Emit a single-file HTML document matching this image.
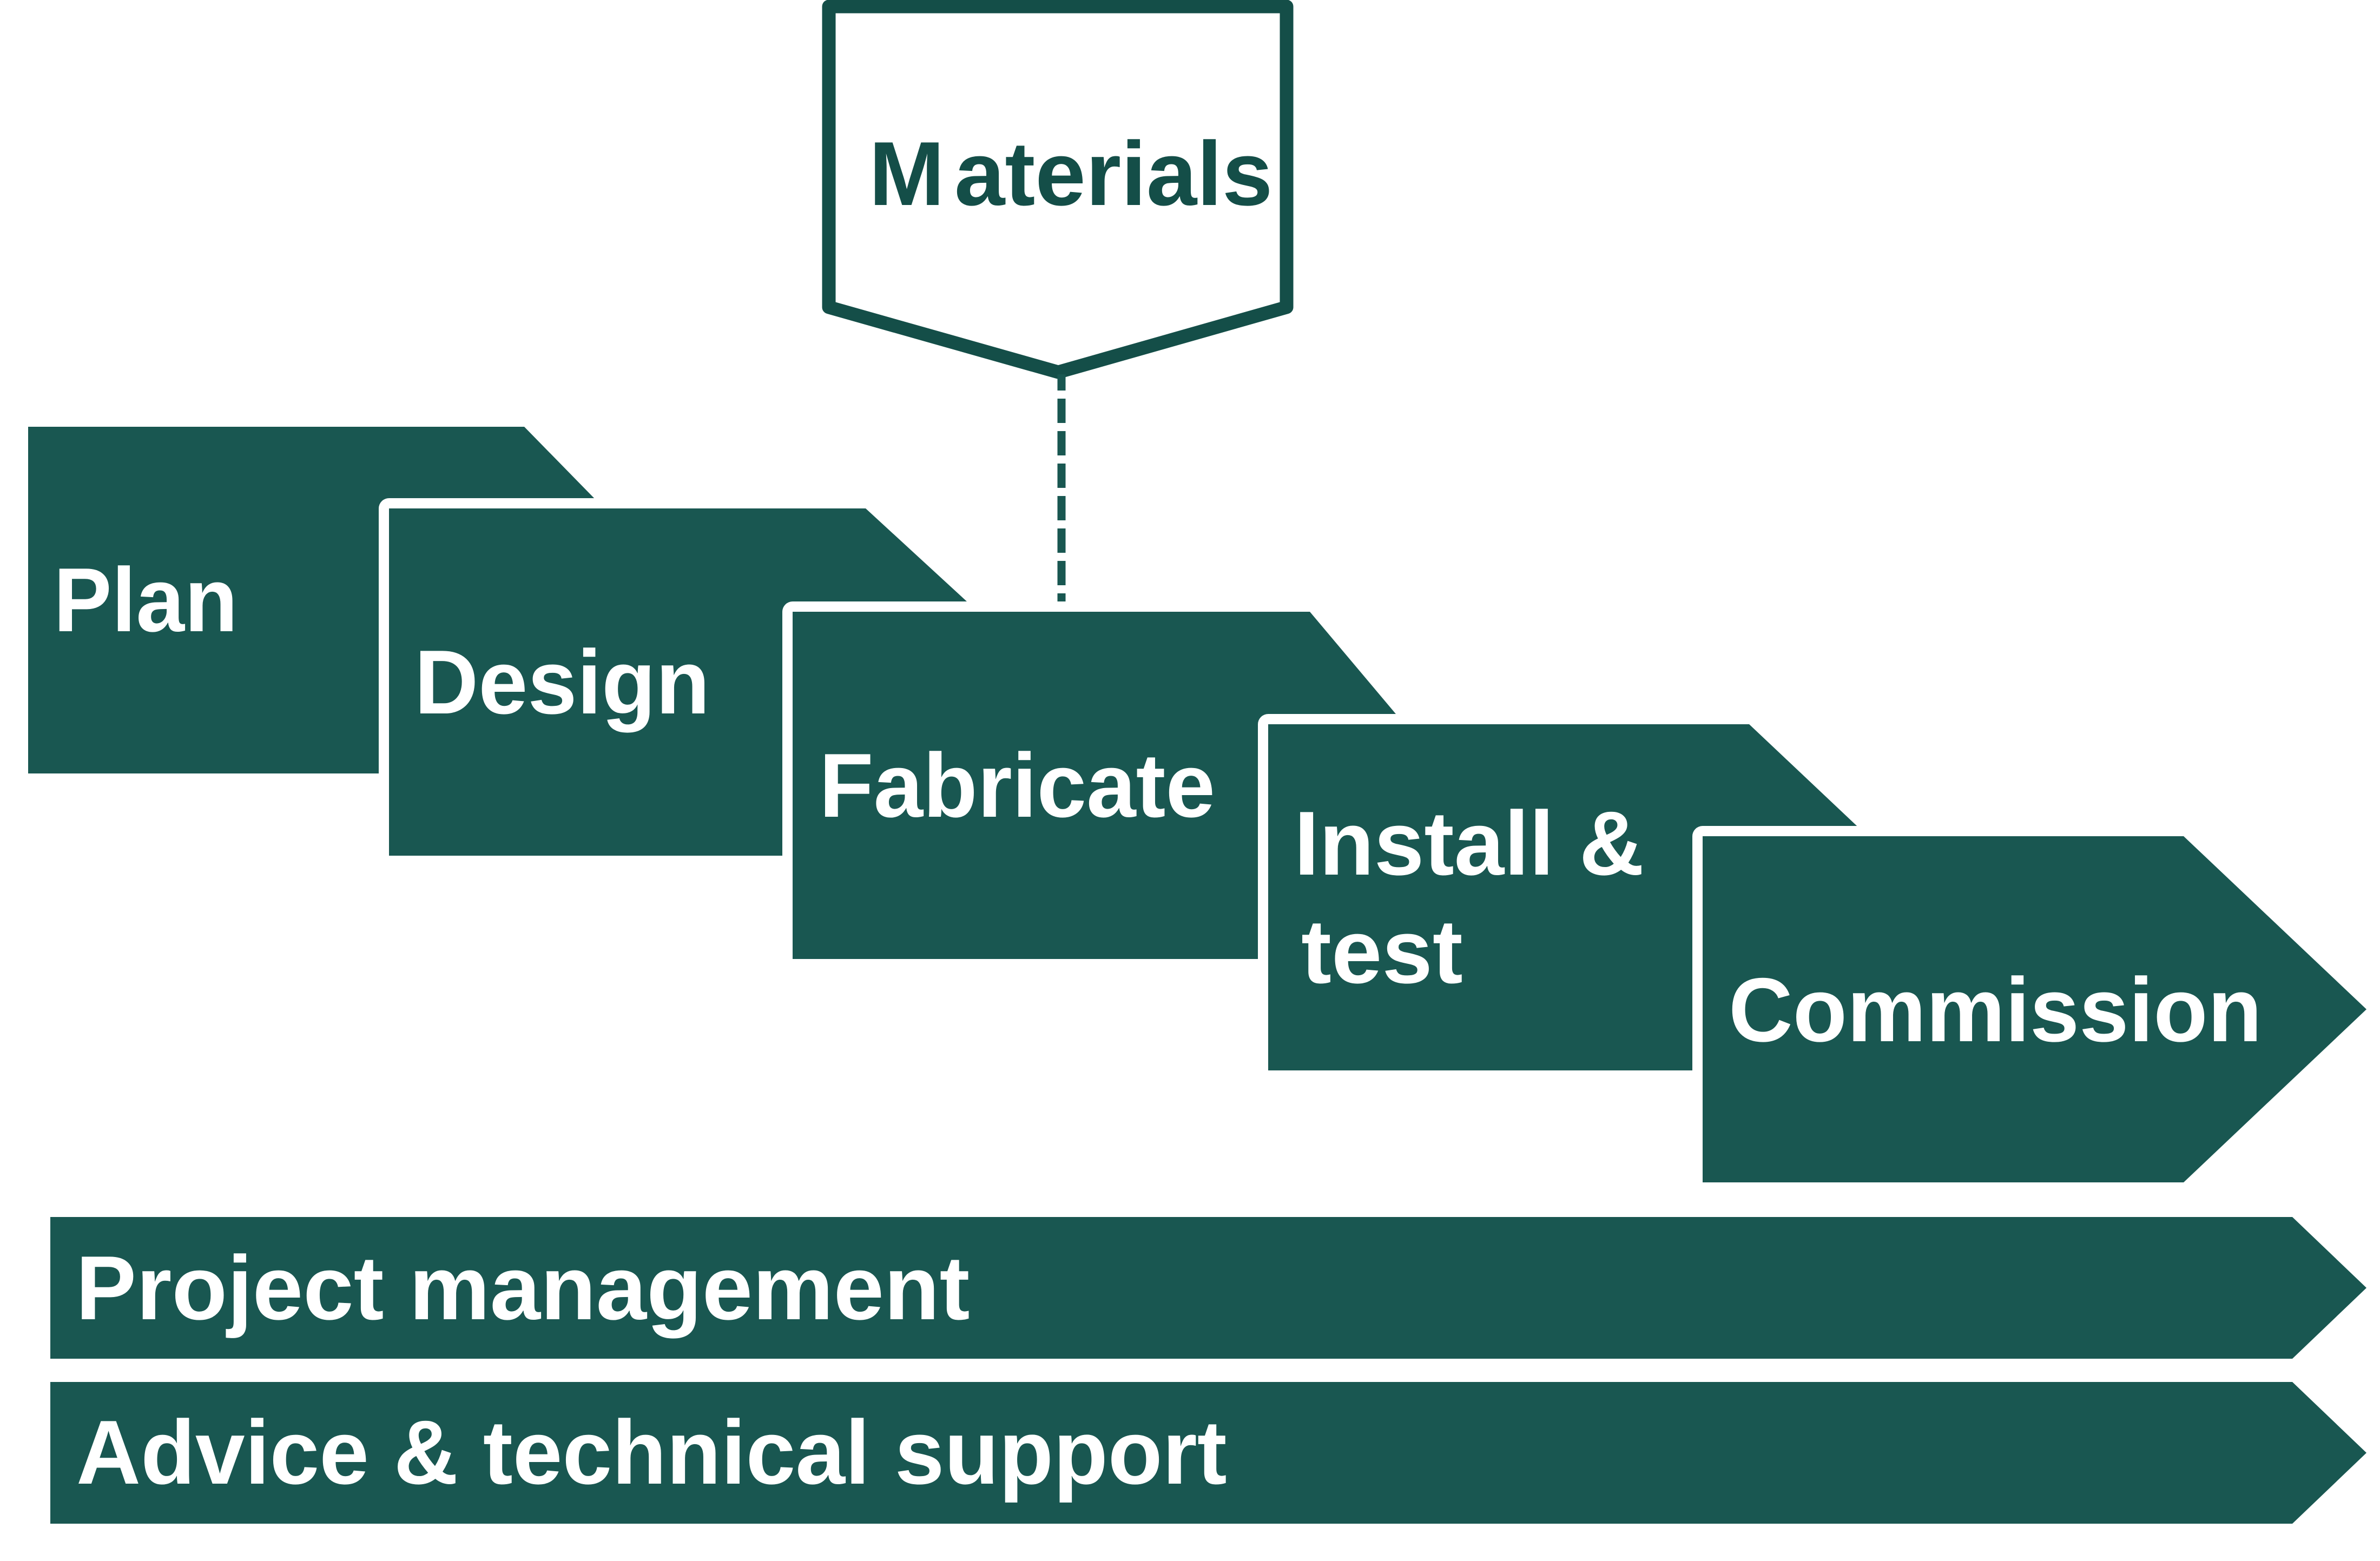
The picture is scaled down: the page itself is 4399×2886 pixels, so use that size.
<!DOCTYPE html>
<html>
<head>
<meta charset="utf-8">
<style>
  html, body { margin: 0; padding: 0; background: #ffffff; }
  svg { display: block; }
  text { font-family: "Liberation Sans", Arial, sans-serif; font-weight: bold; }
</style>
</head>
<body>
<svg width="4399" height="2886" viewBox="0 0 4399 2886" xmlns="http://www.w3.org/2000/svg">
  <defs>
    <filter id="blur" x="-200%" y="-10%" width="500%" height="120%">
      <feGaussianBlur stdDeviation="7"/>
    </filter>
  </defs>
  <rect x="0" y="0" width="4399" height="2886" fill="#ffffff"/>

  <!-- Materials pentagon -->
  <polygon points="1532,12 2378,12 2378,568 1956,688 1532,568" fill="#ffffff" stroke="#144e48" stroke-width="25" stroke-linejoin="round"/>
  <text x="1606" y="379" font-size="168" fill="#144e48"><tspan letter-spacing="18">M</tspan>aterials</text>

  <!-- dashed connector shadow -->
  <line x1="1984" y1="712" x2="1984" y2="1135" stroke="#9a9a9a" stroke-width="16" stroke-dasharray="45 15" stroke-dashoffset="-22" filter="url(#blur)" opacity="0.7"/>
  <!-- dashed connector -->
  <line x1="1962" y1="692" x2="1962" y2="1131" stroke="#195751" stroke-width="15" stroke-dasharray="45 15" stroke-dashoffset="15"/>

  <!-- Plan -->
  <polygon points="52,789 969,789 1283,1110 969,1430 52,1430" fill="#195751"/>
  <text transform="translate(99,1167) scale(0.96,1)" x="0" y="0" font-size="168" fill="#ffffff">Plan</text>

  <!-- Design -->
  <polygon points="719,940 1600,940 1949,1261 1600,1582 719,1582" fill="#195751" stroke="#ffffff" stroke-width="38" stroke-linejoin="round" paint-order="stroke"/>
  <text transform="translate(766,1319) scale(0.975,1)" x="0" y="0" font-size="168" fill="#ffffff">Design</text>

  <!-- Fabricate -->
  <polygon points="1465,1131 2421,1131 2691,1452 2421,1773 1465,1773" fill="#195751" stroke="#ffffff" stroke-width="38" stroke-linejoin="round" paint-order="stroke"/>
  <text transform="translate(1514,1510) scale(0.98,1)" x="0" y="0" font-size="168" fill="#ffffff">Fabricate</text>

  <!-- Install & test -->
  <polygon points="2344,1339 3233,1339 3572,1659 3233,1979 2344,1979" fill="#195751" stroke="#ffffff" stroke-width="38" stroke-linejoin="round" paint-order="stroke"/>
  <text transform="translate(2392,1617) scale(0.99,1)" x="0" y="0" font-size="168" fill="#ffffff">Install &amp;</text>
  <text x="2405" y="1817" font-size="168" fill="#ffffff">test</text>

  <!-- Commission -->
  <polygon points="3147,1546 4036,1546 4374,1866 4036,2186 3147,2186" fill="#195751" stroke="#ffffff" stroke-width="38" stroke-linejoin="round" paint-order="stroke"/>
  <text transform="translate(3195,1925) scale(0.978,1)" x="0" y="0" font-size="168" fill="#ffffff">Commission</text>

  <!-- Project management bar -->
  <polygon points="93,2250 4237,2250 4374,2381 4237,2512 93,2512" fill="#195751"/>
  <text x="140" y="2439" font-size="168" fill="#ffffff">Project management</text>

  <!-- Advice & technical support bar -->
  <polygon points="93,2555 4237,2555 4374,2686 4237,2817 93,2817" fill="#195751"/>
  <text transform="translate(141,2743) scale(0.982,1)" x="0" y="0" font-size="168" fill="#ffffff">Advice &amp; technical support</text>
</svg>
</body>
</html>
